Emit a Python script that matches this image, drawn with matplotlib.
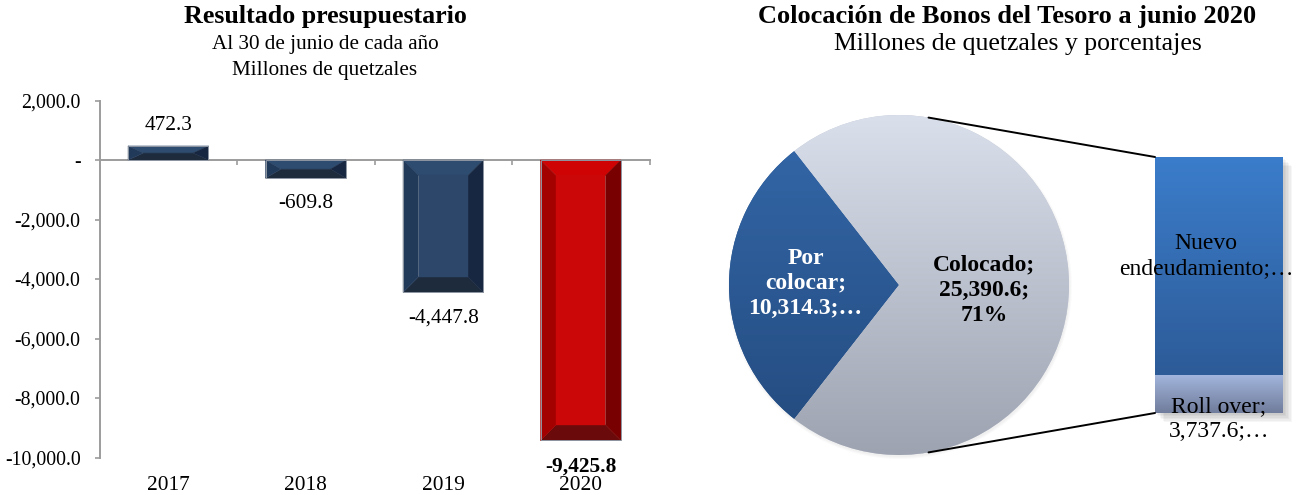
import numpy as np
import matplotlib
matplotlib.use("Agg")
import matplotlib.pyplot as plt
from matplotlib.patches import Polygon, Rectangle, ConnectionPatch, Circle
from matplotlib.colors import LinearSegmentedColormap
from matplotlib.ticker import FuncFormatter
from matplotlib.transforms import ScaledTranslation

plt.rcParams['font.family'] = ['Liberation Serif', 'DejaVu Serif']

# Resultado presupuestario al 30 de junio (millones de quetzales)
years = ['2017', '2018', '2019', '2020']
resultado = [472.3, -609.8, -4447.8, -9425.8]

# Colocación de Bonos del Tesoro a junio 2020
pie_labels = ['Por colocar', 'Colocado']
pie_values = [10314.3, 25390.6]
bar_labels = ['Roll over', 'Nuevo endeudamiento']
bar_values = [3737.6, 21653.0]

W, H = 1302, 495
fig = plt.figure(figsize=(W / 100, H / 100), dpi=100)
PX = 72 / 100  # points per pixel


def px_axes(x0, y0, x1, y1):
    return fig.add_axes([x0 / W, 1 - y1 / H, (x1 - x0) / W, (y1 - y0) / H])


def gradient_fill(ax, patch, top, bottom, extent):
    cmap = LinearSegmentedColormap.from_list('g', [bottom, top])
    grad = np.linspace(1, 0, 256).reshape(-1, 1)
    im = ax.imshow(grad, cmap=cmap, extent=extent, aspect='auto',
                   interpolation='bicubic', zorder=patch.get_zorder() + 0.1)
    im.set_clip_path(patch)
    return im


# ---------------- Left: budget result bars ----------------
ax = px_axes(99.5, 100.5, 649.5, 457.5)
ax.set_xlim(-0.5, 3.5)
ax.set_ylim(-10000, 2000)
axis_gray = '#9c9c9c'
for s in ('top', 'right'):
    ax.spines[s].set_visible(False)
ax.spines['left'].set_color(axis_gray)
ax.spines['left'].set_linewidth(1.4)
ax.spines['bottom'].set_position(('data', 0))
ax.spines['bottom'].set_color(axis_gray)
ax.spines['bottom'].set_linewidth(1.4)

ax.set_yticks(np.arange(-10000, 2001, 2000))
ax.yaxis.set_major_formatter(FuncFormatter(lambda v, p: '-' if v == 0 else f'{v:,.1f}'))
ax.tick_params(axis='y', direction='out', length=5 * PX, width=1.2,
               color=axis_gray, labelsize=14.3, pad=14 * PX)
ax.set_xticks(np.arange(len(years)) + 0.5)
ax.tick_params(axis='x', direction='out', length=5 * PX, width=1.2, color=axis_gray,
               labelbottom=False)

sec = ax.secondary_xaxis(0.0)
sec.set_xticks(np.arange(len(years)), labels=years)
sec.tick_params(length=0, pad=19 * PX, labelsize=15.4)
sec.spines['bottom'].set_visible(False)

blue_shades = dict(face='#2c476a', top='#2e4c70', left='#223a5a', right='#172741', bottom='#1e2b3d')
red_shades = dict(face='#cc0707', top='#cf0303', left='#a30000', right='#790000', bottom='#6a0a0a')

bar_w = 0.585
T = ax.transData
Tinv = T.inverted()
for i, v in enumerate(resultado):
    shades = red_shades if i == len(resultado) - 1 else blue_shades
    x0, x1 = i - bar_w / 2, i + bar_w / 2
    (X0, Y0), (X1, Y1) = T.transform([(x0, min(0, v)), (x1, max(0, v))])
    bx = min(15.5, (X1 - X0) / 2)
    by = min(15.5, (Y1 - Y0) / 2)
    BL, BR, TR, TL = (X0, Y0), (X1, Y0), (X1, Y1), (X0, Y1)
    bl, br = (X0 + bx, Y0 + by), (X1 - bx, Y0 + by)
    tr, tl = (X1 - bx, Y1 - by), (X0 + bx, Y1 - by)
    parts = [('top', [TL, TR, tr, tl]), ('bottom', [BL, BR, br, bl]),
             ('left', [BL, TL, tl, bl]), ('right', [BR, TR, tr, br]),
             ('face', [bl, br, tr, tl])]
    for key, pts in parts:
        ax.add_patch(Polygon(Tinv.transform(pts), closed=True, facecolor=shades[key],
                             edgecolor=shades[key], linewidth=0.3, zorder=3))
    ax.add_patch(Rectangle((x0, min(0, v)), bar_w, abs(v), fill=False,
                           edgecolor='#8e96a3', linewidth=0.7, zorder=3.5))

    bold = 'bold' if i == len(resultado) - 1 else 'normal'
    if v >= 0:
        ax.annotate(f'{v:,.1f}', (i, v), xytext=(0, 16 * PX), textcoords='offset points',
                    ha='center', va='baseline', fontsize=15.4, fontweight=bold)
    else:
        ax.annotate(f'{v:,.1f}', (i, v), xytext=(0, -16 * PX), textcoords='offset points',
                    ha='center', va='top', fontsize=15.4, fontweight=bold)

fig.text(325 / W, 1 - 16 / H, 'Resultado presupuestario', ha='center', va='center',
         fontsize=18.7, fontweight='bold')
fig.text(325 / W, 1 - 44 / H, 'Al 30 de junio de cada año', ha='center', va='center',
         fontsize=15.2)
fig.text(325 / W, 1 - 70 / H, 'Millones de quetzales', ha='center', va='center',
         fontsize=15.2)

# ---------------- Right: pie of bar ----------------
fig.text(1007 / W, 1 - 17 / H, 'Colocación de Bonos del Tesoro a junio 2020',
         ha='center', va='center', fontsize=19, fontweight='bold')
fig.text(1018 / W, 1 - 44 / H, 'Millones de quetzales y porcentajes',
         ha='center', va='center', fontsize=18.5)

axp = px_axes(899 - 170, 285 - 170, 899 + 170, 285 + 170)
total = sum(pie_values)
first_angle = 360 * pie_values[0] / total
wedges, _ = axp.pie(pie_values, startangle=180 - first_angle / 2, radius=1,
                    colors=['#2c5a94', '#c3c9d5'], wedgeprops=dict(linewidth=0))
axp.set_xlim(-1.08, 1.08)
axp.set_ylim(-1.08, 1.08)
axp.set_position([(899 - 170 * 1.08) / W, 1 - (285 + 170 * 1.08) / H,
                  340 * 1.08 / W, 340 * 1.08 / H])
axp.set_aspect('equal')
axp.axis('off')

# faint soft shadow under the pie
for k in range(3):
    axp.add_patch(Circle((0.005, -0.012), 1 + 0.006 * k, facecolor='black',
                         alpha=0.02, linewidth=0, zorder=0.5))

pie_grad = [('#3468aa', '#234a7d'), ('#d9dfeb', '#9ea3b1')]
for w, (top, bot) in zip(wedges, pie_grad):
    w.set_zorder(1)
    gradient_fill(axp, w, top, bot, (-1, 1, -1, 1))

pct = [round(100 * v / total) for v in pie_values]
axp.text(-0.55, 0.01, f'Por\ncolocar;\n{pie_values[0]:,.1f};…', ha='center', va='center',
         color='white', fontsize=17, fontweight='bold', linespacing=1.25, zorder=5)
axp.text(0.5, -0.03, f'{pie_labels[1]};\n{pie_values[1]:,.1f};\n{pct[1]}%', ha='center',
         va='center', color='black', fontsize=17, fontweight='bold', linespacing=1.25, zorder=5)

# breakdown bar
axb = px_axes(1155, 157, 1283, 413)
bar_total = sum(bar_values)
axb.set_xlim(0, 1)
axb.set_ylim(0, bar_total)
axb.axis('off')

for k in range(1, 7):
    axb.add_patch(Rectangle((0, 0), 1, 1, transform=axb.transAxes +
                            ScaledTranslation(1.5 * k / 100, -1.5 * k / 100,
                                              fig.dpi_scale_trans),
                            facecolor='black', alpha=0.035, linewidth=0, zorder=0.5,
                            clip_on=False))

bar_grad = [('#a2b5dc', '#707c9b'), ('#3b7dcb', '#2d5b98')]
bottom = 0
segs = []
for val, (top, bot) in zip(bar_values, bar_grad):
    rect = axb.bar(0.5, val, width=1, bottom=bottom, color=bot, linewidth=0, zorder=1)[0]
    rect.set_clip_on(False)
    gradient_fill(axb, rect, top, bot, (0, 1, bottom, bottom + val))
    segs.append((bottom, bottom + val))
    bottom += val

# Roll over label
axb.annotate(f'{bar_labels[0]};\n{bar_values[0]:,.1f};…', (0.5, sum(segs[0]) / 2),
             xytext=(0, -25 * PX), textcoords='offset points', ha='center', va='center',
             fontsize=17, linespacing=1.25, annotation_clip=False, zorder=5)
# Nuevo endeudamiento label
axb.annotate('Nuevo\nendeudamiento;…', (0.4, sum(segs[1]) / 2),
             xytext=(0, 10 * PX), textcoords='offset points', ha='center', va='center',
             fontsize=17, linespacing=1.25, annotation_clip=False, zorder=5)

# connector lines from the pie to the breakdown bar
conn_angle = np.deg2rad(80)
for sign, yb in ((1, bar_total), (-1, 0)):
    cp = ConnectionPatch(xyA=(np.cos(conn_angle), sign * np.sin(conn_angle)), coordsA=axp.transData,
                         xyB=(0, yb), coordsB=axb.transData, color='black', linewidth=1.4,
                         zorder=6)
    fig.add_artist(cp)

fig.savefig('out.png', dpi=100)
